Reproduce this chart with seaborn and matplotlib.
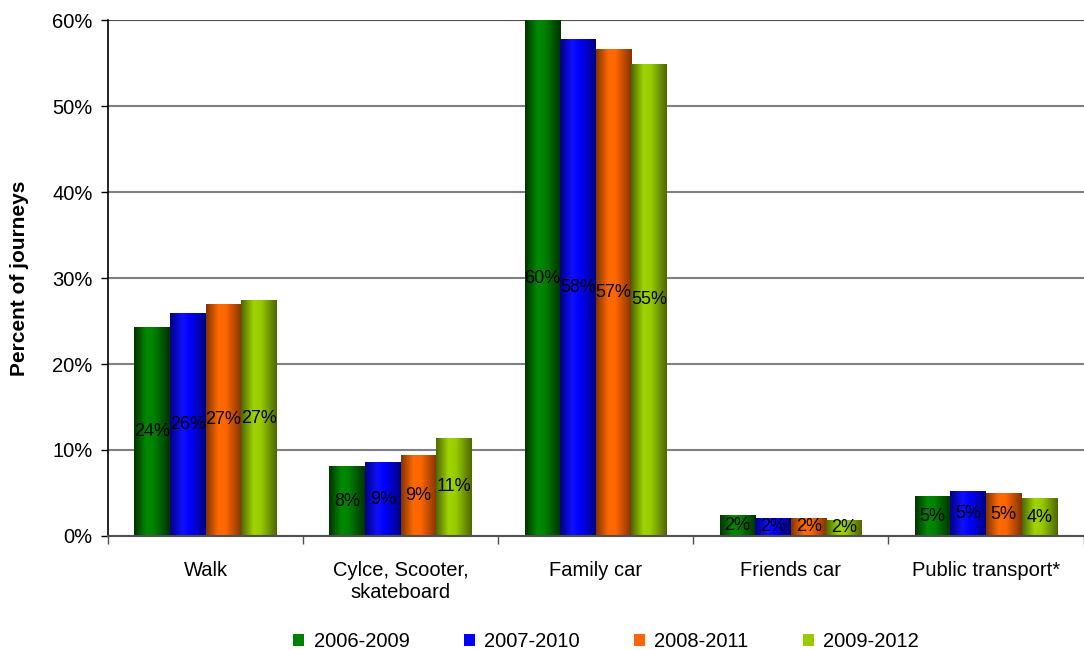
import numpy as np
import pandas as pd
import matplotlib
matplotlib.use("Agg")
import matplotlib.pyplot as plt
from matplotlib.colors import LinearSegmentedColormap
from matplotlib.patches import Patch
from matplotlib.ticker import PercentFormatter, FixedLocator
import seaborn as sns

# Travel-mode shares for each rolling survey period (percent of journeys)
categories = ["Walk", "Cylce, Scooter,\nskateboard", "Family car", "Friends car", "Public transport*"]
periods = ["2006-2009", "2007-2010", "2008-2011", "2009-2012"]
share_2006_2009 = [24.3, 8.1, 60.0, 2.4, 4.6]
share_2007_2010 = [25.9, 8.6, 57.8, 2.1, 5.2]
share_2008_2011 = [27.0, 9.4, 56.6, 2.1, 5.0]
share_2009_2012 = [27.4, 11.4, 54.9, 1.9, 4.4]

series = [share_2006_2009, share_2007_2010, share_2008_2011, share_2009_2012]
df = pd.DataFrame({
    "mode": [c for _ in periods for c in categories],
    "period": [p for p in periods for _ in categories],
    "share": [v for s in series for v in s],
})

# base colour, dark edge and bright centre of each cylinder-shaded bar
base = ["#008000", "#0000ff", "#ff6600", "#99cc00"]
dark = ["#003300", "#000080", "#803300", "#4d6600"]
bright = ["#008a00", "#1010ff", "#ff6a00", "#9fd400"]

sns.set_theme(style="white")
plt.rcParams["font.family"] = ["Liberation Sans", "DejaVu Sans"]
plt.rcParams["text.color"] = "black"
plt.rcParams["xtick.color"] = "black"
plt.rcParams["ytick.color"] = "black"
plt.rcParams["axes.labelcolor"] = "black"

fig = plt.figure(figsize=(10.84, 6.5), dpi=100)
ax = fig.add_axes([0.0996, 0.1754, 0.9, 0.7938])

sns.barplot(data=df, x="mode", y="share", hue="period", order=categories,
            hue_order=periods, palette=base, width=0.73, ax=ax,
            legend=False, saturation=1, edgecolor="none", linewidth=0)

grad = np.linspace(0, 1, 256)[np.newaxis, :]
for i, container in enumerate(ax.containers):
    cmap = LinearSegmentedColormap.from_list(
        f"cyl{i}", [(0, dark[i]), (0.35, bright[i]), (0.55, base[i]), (1, dark[i])])
    for bar in container:
        x0, y0 = bar.get_x(), bar.get_y()
        w, h = bar.get_width(), bar.get_height()
        im = ax.imshow(grad, cmap=cmap, extent=[x0, x0 + w, y0, y0 + h],
                       aspect="auto", zorder=2, interpolation="bilinear")
        im.set_clip_path(bar)
        bar.set_facecolor("none")
    labels = [f"{v:.0f}%" for v in series[i]]
    ax.bar_label(container, labels=labels, label_type="center",
                 fontsize=13, color="black", zorder=5)

ax.set_xlim(-0.5, len(categories) - 0.5)
ax.set_ylim(0, 60)
ax.set_aspect("auto")
ax.yaxis.set_major_locator(FixedLocator(np.arange(0, 61, 10)))
ax.yaxis.set_major_formatter(PercentFormatter(decimals=0))
ax.set_axisbelow(True)
ax.grid(axis="y", color="#808080", linewidth=1.5)
ax.grid(axis="x", visible=False)

for side in ["top", "right"]:
    ax.spines[side].set_visible(False)
ax.spines["left"].set_color("black")
ax.spines["left"].set_linewidth(1.2)
ax.spines["bottom"].set_color("#505050")
ax.spines["bottom"].set_linewidth(1.5)
ax.axhline(60, color="#505050", linewidth=1.5, zorder=1)

ax.tick_params(axis="y", which="major", left=True, length=5, width=1,
               color="black", labelsize=14.5, pad=6)
ax.set_xticks(np.arange(len(categories)))
ax.set_xticklabels(categories)
ax.tick_params(axis="x", which="major", bottom=False, labelsize=14.5, pad=12)
ax.set_xticks(np.arange(len(categories) + 1) - 0.5, minor=True)
ax.tick_params(axis="x", which="minor", bottom=True, length=6, width=1,
               color="#505050")

ax.set_xlabel("")
ax.set_ylabel("Percent of journeys", fontsize=15, fontweight="bold")
ax.yaxis.set_label_coords(-0.081, 0.5)

handles = [Patch(facecolor=c, edgecolor="none") for c in base]
fig.legend(handles, periods, loc="lower center", bbox_to_anchor=(0.559, -0.03),
           ncol=4, frameon=False, fontsize=14.5, handlelength=0.55,
           handleheight=0.55, handletextpad=0.45, columnspacing=2.7)

fig.savefig("out.png", dpi=100)
